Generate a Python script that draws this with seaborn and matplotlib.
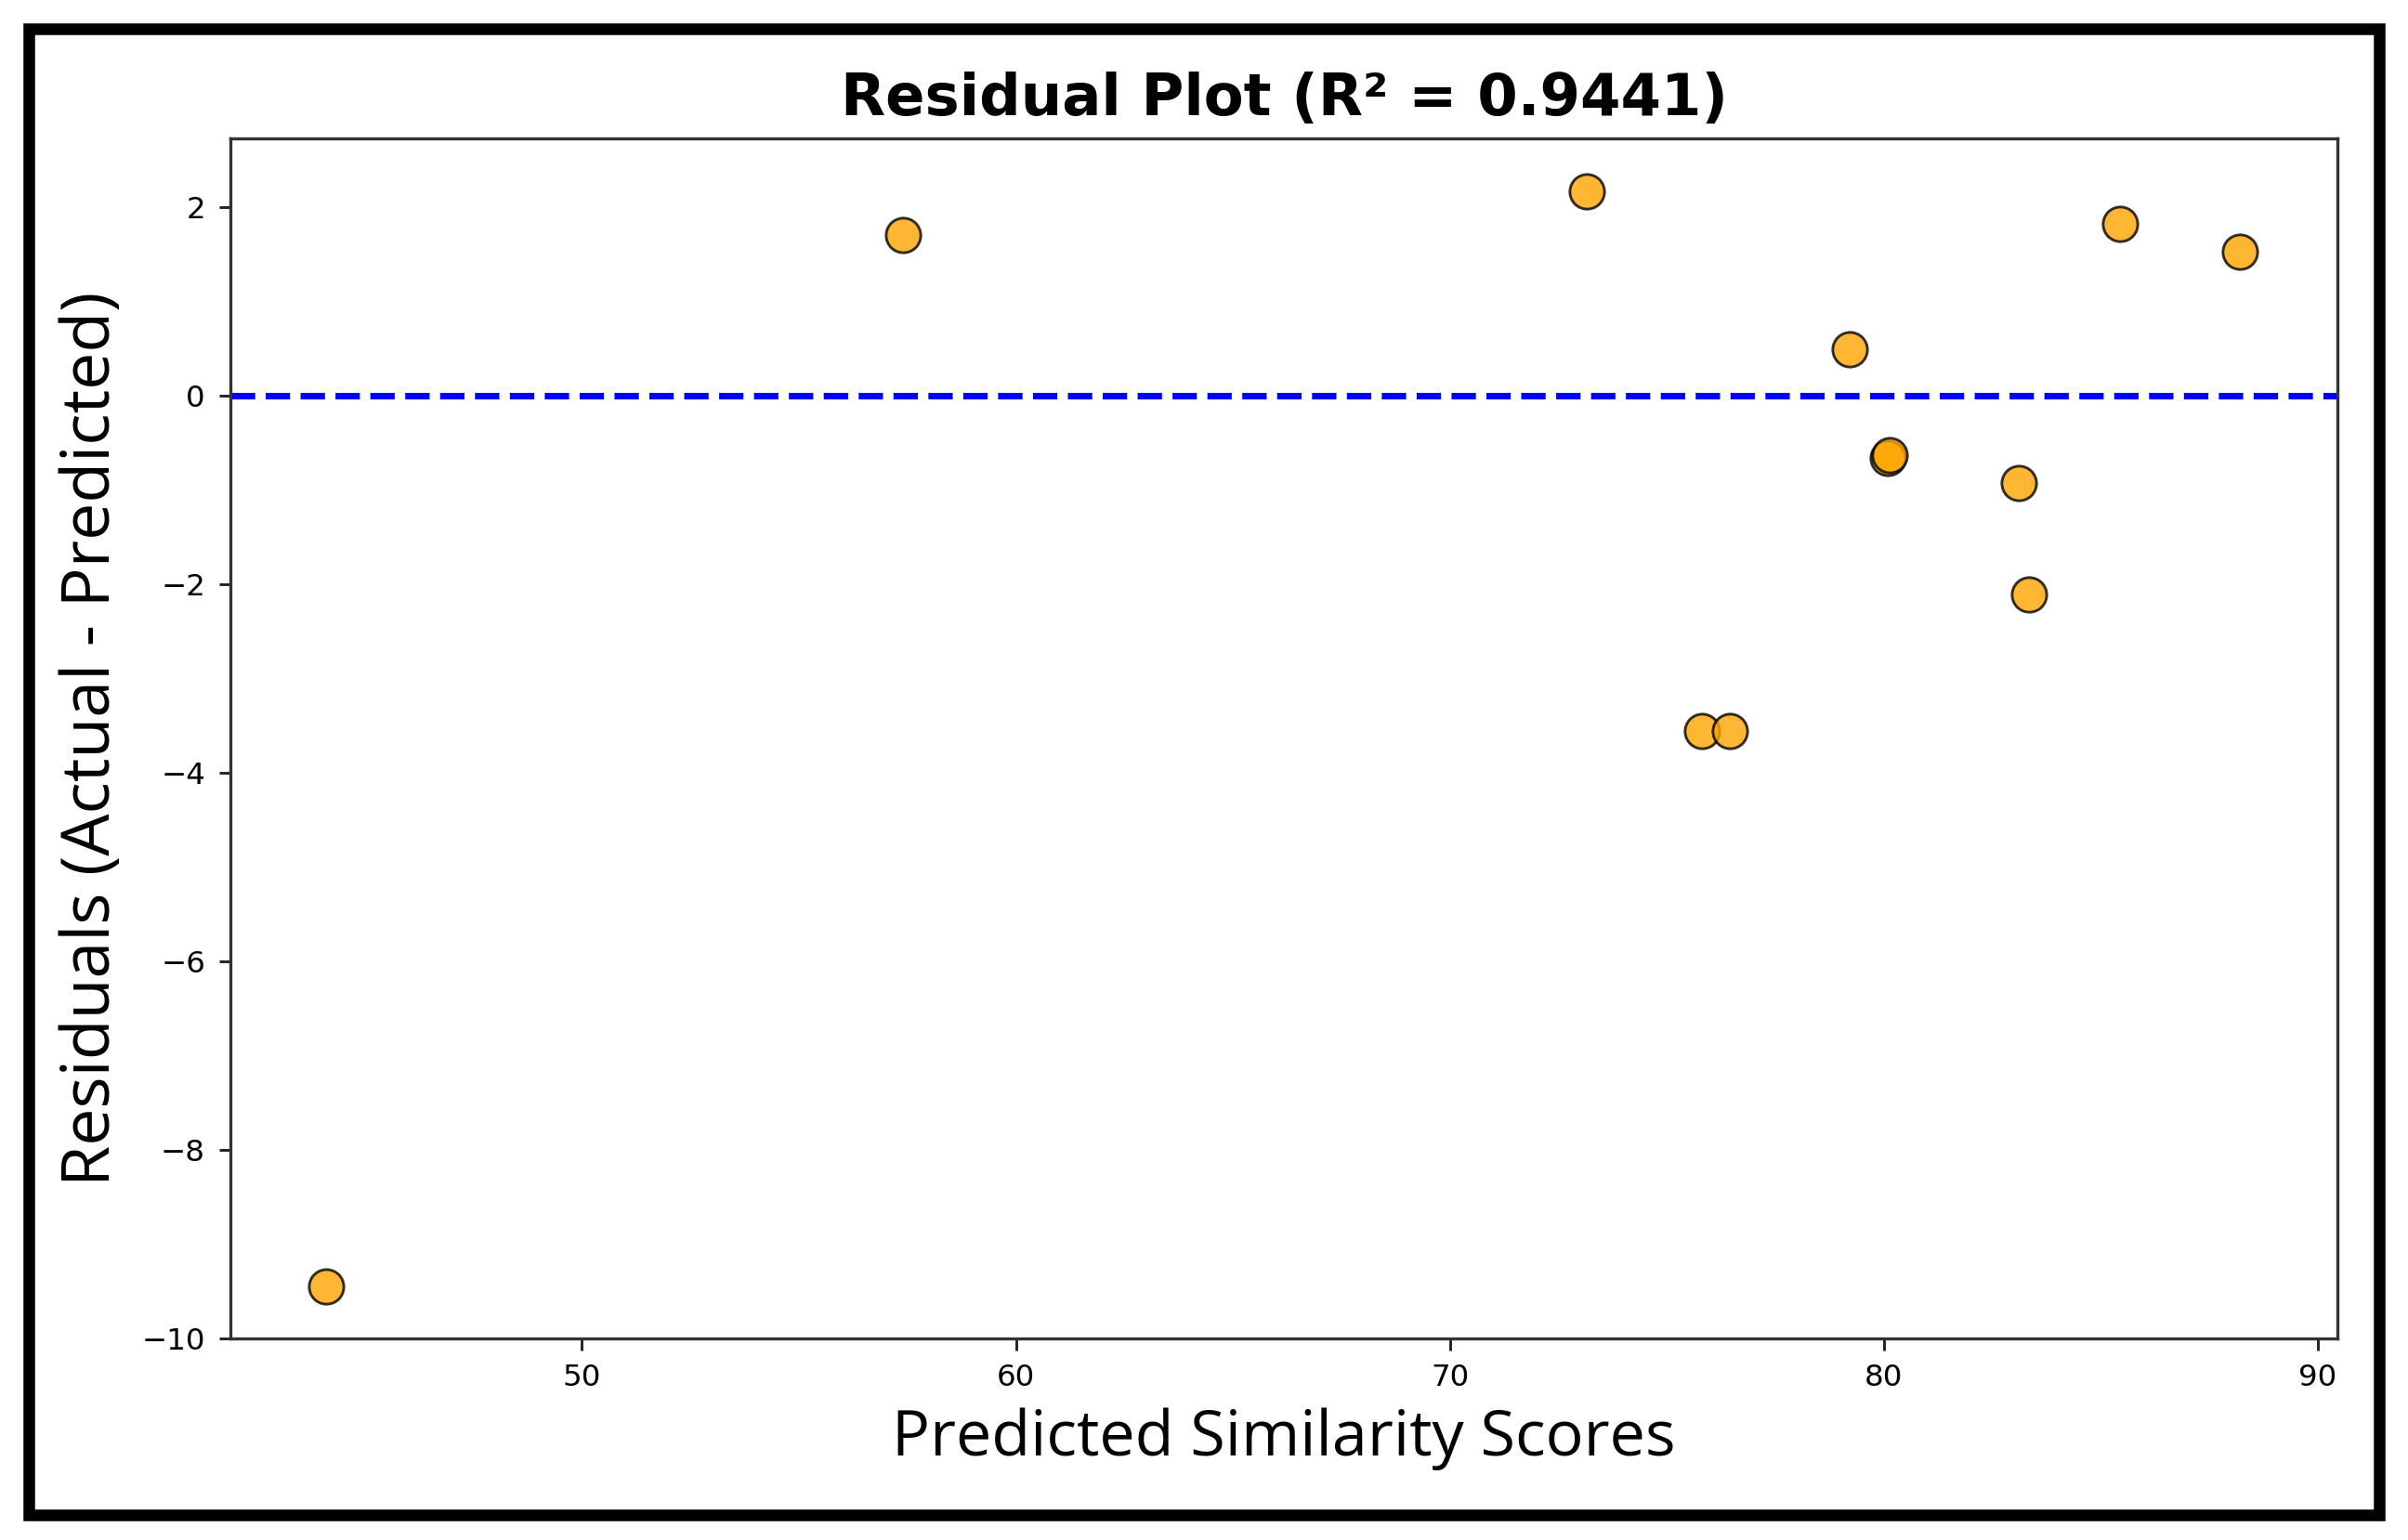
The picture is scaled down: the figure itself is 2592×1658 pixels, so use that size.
import matplotlib
matplotlib.use("Agg")
import matplotlib.pyplot as plt
import seaborn as sns
import numpy as np
import pandas as pd
from matplotlib.patches import Rectangle

# Data
predicted = [44.1, 57.4, 73.15, 75.8, 76.45, 79.2, 80.08, 80.13, 83.1, 83.35, 85.45, 88.2]
residuals = [-9.45, 1.71, 2.17, -3.56, -3.56, 0.49, -0.66, -0.63, -0.93, -2.11, 1.82, 1.53]
r2_value = 0.9441
xticks = [50, 60, 70, 80, 90]
yticks = [-10, -8, -6, -4, -2, 0, 2]

df = pd.DataFrame({"Predicted": predicted, "Residual": residuals})

sns.set_theme(style="ticks")
plt.rcParams['font.family'] = ['DejaVu Sans']
plt.rcParams['text.color'] = 'black'
plt.rcParams['axes.labelcolor'] = 'black'

fig = plt.figure(figsize=(8.64, 5.5267), dpi=300)
ax = fig.add_axes([0.0957, 0.1309, 0.875, 0.7792])

sns.scatterplot(data=df, x="Predicted", y="Residual", ax=ax, color="orange",
                alpha=0.8, edgecolor="black", linewidth=0.7, s=80, zorder=3)
ax.axhline(0, color="blue", linestyle="--", linewidth=1.7, zorder=2)

ax.set_xticks(xticks)
ax.set_yticks(yticks)
ax.set_xlim(41.9, 90.45)
ax.set_ylim(-10.0, 2.73)
ax.tick_params(axis="both", labelsize=7.8, length=3, width=0.7, colors="#222222", labelcolor="black")
for sp in ax.spines.values():
    sp.set_visible(True)
    sp.set_color("#333333")
    sp.set_linewidth(0.8)

ax.set_title(f"Residual Plot (R\u00b2 = {r2_value})", fontsize=15, fontweight="bold", pad=6, color="black")
ax.set_xlabel("Predicted Similarity Scores", fontsize=16.4, family=["Open Sans", "DejaVu Sans"])
ax.set_ylabel("Residuals (Actual - Predicted)", fontsize=17.2, family=["Open Sans", "DejaVu Sans"])
ax.xaxis.set_label_coords(0.5, -0.058)
ax.yaxis.set_label_coords(-0.05, 0.5)

# Outer black frame
fig.patches.append(Rectangle((0.012, 0.0163), 0.976, 0.9647, transform=fig.transFigure,
                             fill=False, edgecolor="black", linewidth=3.0, zorder=10))

fig.savefig("out.png", dpi=300)
